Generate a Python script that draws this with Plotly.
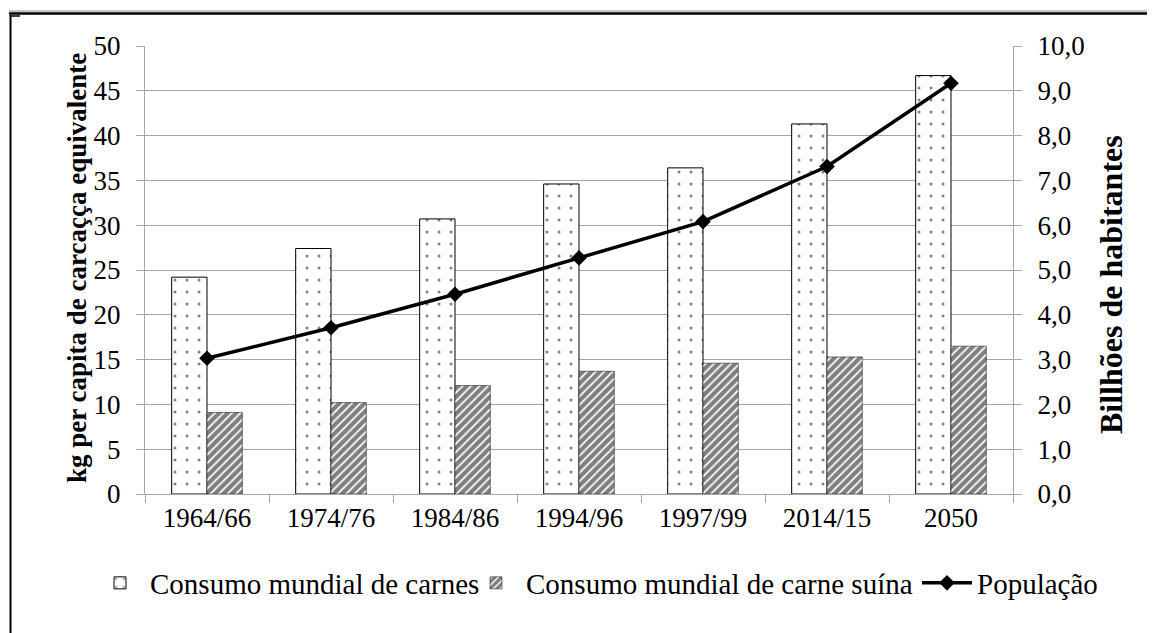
import plotly.graph_objects as go

categories = ["1964/66", "1974/76", "1984/86", "1994/96", "1997/99", "2014/15", "2050"]
carnes = [24.2, 27.4, 30.7, 34.6, 36.4, 41.3, 46.7]
suina = [9.1, 10.2, 12.1, 13.7, 14.6, 15.3, 16.5]
populacao = [3.03, 3.71, 4.46, 5.27, 6.08, 7.31, 9.17]
y_ticks = list(range(0, 55, 5))
y2_ticks = [i * 1.0 for i in range(0, 11)]
y2_labels = [f"{v:.1f}".replace(".", ",") for v in y2_ticks]

FONT = "Liberation Serif"
GRID = "#a6a6a6"
FS = 27
LFS = 29

OFF = 8
W, H = 1155 - OFF, 633 - OFF
L, R, T, B = 145 - OFF, W + OFF - 1013, 46 - OFF, H + OFF - 494

pw = W - L - R
ph = H - T - B
def px(x):
    return (x - OFF - L) / pw
def py(y):
    return 1 - (y - OFF - T) / ph

fig = go.Figure()
fig.add_trace(go.Bar(
    x=categories, y=carnes, name="Consumo mundial de carnes", legend="legend",
    marker=dict(color="white", line=dict(color="black", width=1),
                pattern=dict(shape=".", fgcolor="black", bgcolor="white", size=12, solidity=0.05)),
))
fig.add_trace(go.Bar(
    x=categories, y=suina, name="Consumo mundial de carne suína", legend="legend2",
    marker=dict(color="white", line=dict(color="black", width=0.5),
                pattern=dict(shape="/", fgcolor="black", bgcolor="white", size=6, solidity=0.7)),
))
fig.add_trace(go.Scatter(
    x=categories, y=populacao, name="População", yaxis="y2", mode="lines+markers", legend="legend3",
    line=dict(color="black", width=3.5),
    marker=dict(symbol="diamond", size=12, color="black"),
))

def leg(xpage):
    return dict(orientation="h", x=px(xpage), xanchor="left", y=py(583), yanchor="middle",
                font=dict(family=FONT, size=LFS), itemwidth=50, bgcolor="rgba(0,0,0,0)")

fig.update_layout(
    width=W, height=H,
    margin=dict(l=L, r=R, t=T, b=B, autoexpand=False),
    paper_bgcolor="white", plot_bgcolor="white",
    font=dict(family=FONT, size=FS, color="black"),
    barmode="group", bargap=0.43, bargroupgap=0,
    showlegend=True,
    legend=leg(90), legend2=leg(466), legend3=leg(917),
    xaxis=dict(type="category", showgrid=False, showline=True, linecolor=GRID, linewidth=1,
               ticks="outside", tickson="boundaries", ticklen=8, tickcolor=GRID,
               tickfont=dict(family=FONT, size=FS), automargin=False),
    yaxis=dict(range=[0, 50], tickvals=y_ticks, showgrid=True, gridcolor=GRID, gridwidth=1,
               showline=True, linecolor=GRID, ticks="outside", ticklen=8, tickcolor=GRID,
               tickfont=dict(family=FONT, size=FS), zeroline=False, automargin=False,
               ticklabelstandoff=10),
    yaxis2=dict(range=[0, 10], tickvals=y2_ticks, ticktext=y2_labels, overlaying="y", side="right",
                showgrid=False, showline=True, linecolor=GRID, ticks="outside", ticklen=8,
                tickcolor=GRID, tickfont=dict(family=FONT, size=FS), zeroline=False,
                automargin=False, ticklabelstandoff=10),
)

# axis titles
fig.add_annotation(text="<b>kg per capita de carcaçça equivalente</b>", xref="paper", yref="paper",
                   x=px(77), y=py(268), textangle=-90, showarrow=False,
                   font=dict(family=FONT, size=27), xanchor="center", yanchor="middle")
fig.add_annotation(text="<b>Billhões de habitantes</b>", xref="paper", yref="paper",
                   x=px(1111), y=py(285), textangle=-90, showarrow=False,
                   font=dict(family=FONT, size=32), xanchor="center", yanchor="middle")

# decorative frame (page border lines)
fig.add_shape(type="line", xref="paper", yref="paper", x0=px(9), x1=px(1170), y0=py(11), y1=py(11),
              line=dict(color="#888888", width=1))
fig.add_shape(type="line", xref="paper", yref="paper", x0=px(9), x1=px(1170), y0=py(13.5), y1=py(13.5),
              line=dict(color="black", width=2.5))
fig.add_shape(type="line", xref="paper", yref="paper", x0=px(10.5), x1=px(10.5), y0=py(15), y1=py(650),
              line=dict(color="black", width=2))
fig.add_shape(type="line", xref="paper", yref="paper", x0=px(10), x1=px(20), y0=py(16), y1=py(16),
              line=dict(color="black", width=1.5))

fig.write_html("out.html")
